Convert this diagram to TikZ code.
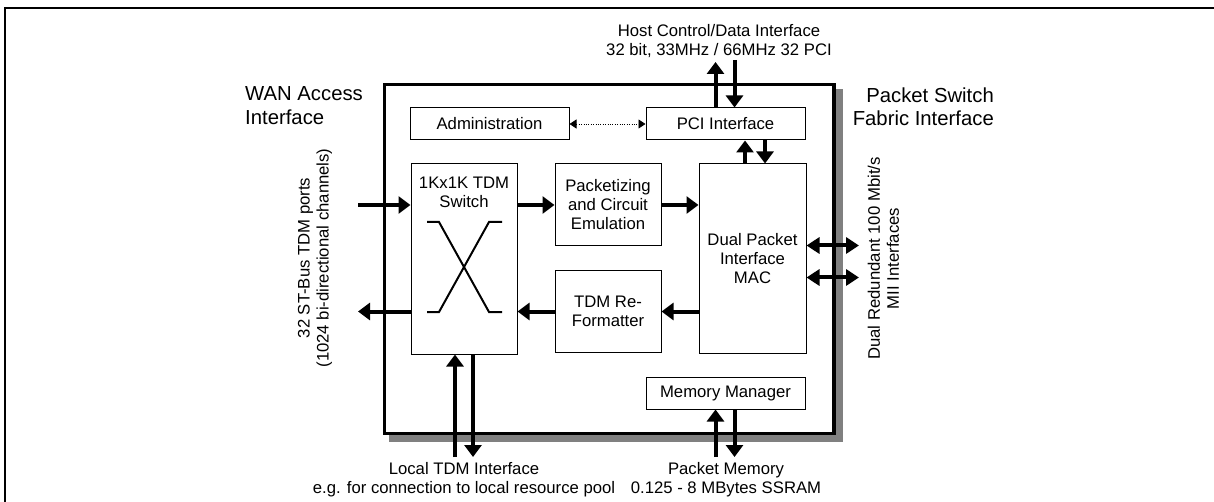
\documentclass[tikz,border=0pt]{standalone}
\usepackage{fontspec}
\setmainfont{Liberation Sans}
\usetikzlibrary{arrows.meta}
\definecolor{shadowgray}{HTML}{808080}
\tikzset{
  blk/.style={draw=black, line width=1pt, fill=white, inner sep=0pt, align=center,
    font=\fontsize{16.7pt}{19pt}\selectfont},
  lbl/.style={inner sep=0pt, align=center, font=\fontsize{16.7pt}{19pt}\selectfont},
  biglbl/.style={inner sep=0pt, font=\fontsize{20.3pt}{23.5pt}\selectfont},
  bus/.style={line width=4pt, -{Triangle[length=12pt,width=17pt]}},
  dbus/.style={line width=4pt, {Triangle[length=13pt,width=16pt]}-{Triangle[length=13pt,width=16pt]}},
  ctrl/.style={line width=0.8pt, dash pattern=on 1pt off 1.4pt,
    {Triangle[length=7pt,width=9pt]}-{Triangle[length=7pt,width=9pt]}},
  xbar/.style={line width=2pt}
}
\begin{document}
\begin{tikzpicture}[x=1pt,y=-1pt]
\useasboundingbox (0,0) rectangle (1214,502);
% page frame
\draw[line width=2pt] (5,503) -- (5,8) -- (1215,8);

% chip outline with drop shadow
\fill[shadowgray] (389,89) rectangle (843,442);
\draw[line width=3.5pt, fill=white] (384.5,84.5) rectangle (834,433.5);

% functional blocks
\node[blk, minimum width=159pt, minimum height=32pt] (adm) at (489.5,124) {Administration};
\node[blk, minimum width=159pt, minimum height=32pt] (pci) at (725.5,124) {PCI Interface};
\node[blk, minimum width=106pt, minimum height=190pt] (sw) at (464,259) {};
\node[lbl, anchor=north] (swt) at (464,177) {1Kx1K TDM\\Switch};
\node[blk, minimum width=106pt, minimum height=82pt] (pk) at (608,205) {Packetizing\\and Circuit\\Emulation};
\node[blk, minimum width=106pt, minimum height=81pt] (rf) at (608,311.5) {TDM Re-\\Formatter};
\node[blk, minimum width=107pt, minimum height=189pt] (mac) at (752.5,258.5) {Dual Packet\\Interface\\MAC};
\node[blk, minimum width=159pt, minimum height=32pt] (mem) at (725.5,393) {Memory Manager};

% crossbar symbol inside the TDM switch
\draw[xbar] (427,222) -- (439,222) -- (489,312) -- (502,312);
\draw[xbar] (502,222) -- (489,222) -- (439,312) -- (427,312);

% interface labels
\node[lbl] (host) at (719,41) {Host Control/Data Interface\\32 bit, 33MHz / 66MHz 32 PCI};
\node[biglbl, align=left, anchor=west] (wan) at (245,105.5) {WAN Access\\Interface};
\node[biglbl, align=right, anchor=east] (psf) at (994,106.5) {Packet Switch\\Fabric Interface};
\node[lbl, rotate=90] (st) at (315,258) {32 ST-Bus TDM ports\\(1024 bi-directional channels)};
\node[lbl, rotate=90] (mii) at (883.5,258.5) {Dual Redundant 100 Mbit/s\\MII Interfaces};
\node[lbl] (loc) at (464,480) {Local TDM Interface\\e.g. for connection to local resource pool};
\node[lbl] (pm) at (726,480) {Packet Memory\\0.125 - 8 MBytes SSRAM};

% reference rows / columns for connectors
\coordinate (rowA) at (0,205);
\coordinate (rowB) at (0,311.5);
\coordinate (rowC) at (0,245.5);
\coordinate (rowD) at (0,277.5);
\coordinate (inL) at (358,205);
\coordinate (outL) at (358,311.5);
\coordinate (macR1) at (859,245.5);
\coordinate (macR2) at (859,277.5);
\coordinate (hostUp) at (715.5,62);
\coordinate (hostDn) at (734.5,60);
\coordinate (colA) at (745,0);
\coordinate (colB) at (765,0);
\coordinate (colC) at (455,0);
\coordinate (colD) at (473,0);
\coordinate (locUp) at (455,457);
\coordinate (locDn) at (473,457);
\coordinate (memUp) at (715.5,457);
\coordinate (memDn) at (734.5,457);

% data paths
\draw[bus] (inL) -- (sw.west |- rowA);
\draw[bus] (sw.east |- rowA) -- (pk.west |- rowA);
\draw[bus] (pk.east |- rowA) -- (mac.west |- rowA);
\draw[bus] (mac.west |- rowB) -- (rf.east |- rowB);
\draw[bus] (rf.west |- rowB) -- (sw.east |- rowB);
\draw[bus] (sw.west |- rowB) -- (outL);

% host bus
\draw[bus] (pci.north -| hostUp) -- (hostUp);
\draw[bus] (hostDn) -- (pci.north -| hostDn);
\draw[bus] (mac.north -| colA) -- (pci.south -| colA);
\draw[bus] (pci.south -| colB) -- (mac.north -| colB);

% control link
\draw[ctrl] (adm.east) -- (pci.west);

% packet fabric ports
\draw[dbus] (mac.east |- rowC) -- (macR1);
\draw[dbus] (mac.east |- rowD) -- (macR2);

% local TDM and memory buses
\draw[bus] (locUp) -- (sw.south -| colC);
\draw[bus] (sw.south -| colD) -- (locDn);
\draw[bus] (memUp) -- (mem.south -| memUp);
\draw[bus] (mem.south -| memDn) -- (memDn);
\end{tikzpicture}
\end{document}
